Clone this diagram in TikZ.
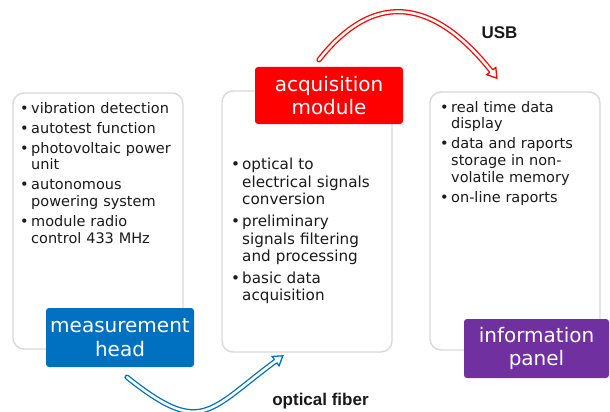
\documentclass[tikz,border=0pt]{standalone}
\usepackage{fontspec}
\setmainfont{DejaVu Sans}
\newfontfamily\linkfont{Liberation Sans}
\usetikzlibrary{decorations.markings}

\definecolor{headblue}{HTML}{0070C0}
\definecolor{acqred}{HTML}{FF0000}
\definecolor{panelpurple}{HTML}{7030A0}
\definecolor{framegray}{HTML}{D9D9D9}
\definecolor{ink}{HTML}{1A1A1A}

% one bulleted entry with a hanging indent
\newcommand{\bitem}[1]{\par\hangindent=11pt\hangafter=1\noindent\makebox[11pt][l]{\textbullet}#1}

\begin{document}
\begin{tikzpicture}[x=1pt,y=-1pt,
  panel/.style={draw=framegray, line width=1.4pt, rounded corners=11pt, fill=white, inner sep=0pt},
  tag/.style={rounded corners=3pt, text=white, align=center, inner sep=0pt,
              font=\fontsize{20}{23.5}\selectfont},
  bullets/.style={anchor=north west, inner sep=0pt, text=ink, text width=168pt,
                  font=\fontsize{14.5}{16.7}\selectfont},
  % hollow shaft of a link
  shaft/.style={draw=#1, line width=1.3pt, double=white, double distance=2.6pt,
                line cap=round, shorten >=9pt},
  % hollow arrow head placed at the end of a link
  hollowhead/.style={postaction={decorate}, decoration={markings,
      mark=at position 0.999 with {\draw[draw=#1, line width=1.3pt, fill=white, line join=miter]
        (-9pt,1.95pt) -- (-9pt,5.8pt) -- (0pt,0pt) -- (-9pt,-5.8pt) -- (-9pt,-1.95pt);}}},
  linklabel/.style={font=\linkfont\bfseries\fontsize{17}{20}\selectfont, text=ink}]

\useasboundingbox[fill=white] (0,0) rectangle (610,412);

% rounded frames
\node[panel, minimum width=170pt, minimum height=256pt] (headpanel) at (98,221) {};
\node[panel, minimum width=170pt, minimum height=261pt] (acqpanel) at (307,221.5) {};
\node[panel, minimum width=170pt, minimum height=258pt] (infopanel) at (515,221) {};

% feature lists
\node[bullets] (headlist) at (20,93) {\raggedright\setlength{\parskip}{3.3pt}%
  \bitem{vibration detection}
  \bitem{autotest function}
  \bitem{photovoltaic power\newline unit}
  \bitem{autonomous\newline powering system}
  \bitem{module radio\newline control 433 MHz}\par};
\node[bullets, font=\fontsize{15.2}{17.6}\selectfont] (acqlist) at (231,148) {\raggedright\setlength{\parskip}{3.9pt}%
  \bitem{optical to\newline electrical signals\newline conversion}
  \bitem{preliminary\newline signals filtering\newline and processing}
  \bitem{basic data\newline acquisition}\par};
\node[bullets] (infolist) at (440,92) {\raggedright\setlength{\parskip}{3.3pt}%
  \bitem{real time data\newline display}
  \bitem{data and raports\newline storage in non-\newline volatile memory}
  \bitem{on-line raports}\par};

% coloured titles
\node[tag, fill=headblue, minimum width=148pt, minimum height=59pt] (head) at (120,337.5) {measurement\\head};
\node[tag, fill=acqred, minimum width=148pt, minimum height=57pt] (acq) at (329,95.5) {acquisition\\module};
\node[tag, fill=panelpurple, minimum width=145pt, minimum height=59pt] (info) at (536.5,348.5) {information\\panel};

% USB link
\coordinate (usbfrom) at ([xshift=-10pt,yshift=7pt]acq.north);
\coordinate (usbto) at ([xshift=-18pt,yshift=13pt]infopanel.north);
\draw[shaft=acqred] (usbfrom) .. controls (378,-15) and (438,4) .. (usbto);
\path[hollowhead=acqred] (usbfrom) .. controls (378,-15) and (438,4) .. (usbto);
\node[linklabel] (usb) at (499.5,33) {USB};

% optical fiber link
\coordinate (fiberfrom) at ([xshift=7pt,yshift=-10pt]head.south);
\coordinate (fiberto) at ([xshift=-24pt,yshift=-3pt]acqpanel.south);
\draw[shaft=headblue] (fiberfrom) .. controls (202,437) and (208,411) .. (fiberto);
\path[hollowhead=headblue] (fiberfrom) .. controls (202,437) and (208,411) .. (fiberto);
\node[linklabel] (fiber) at (320.5,401) {optical fiber};

\end{tikzpicture}
\end{document}
